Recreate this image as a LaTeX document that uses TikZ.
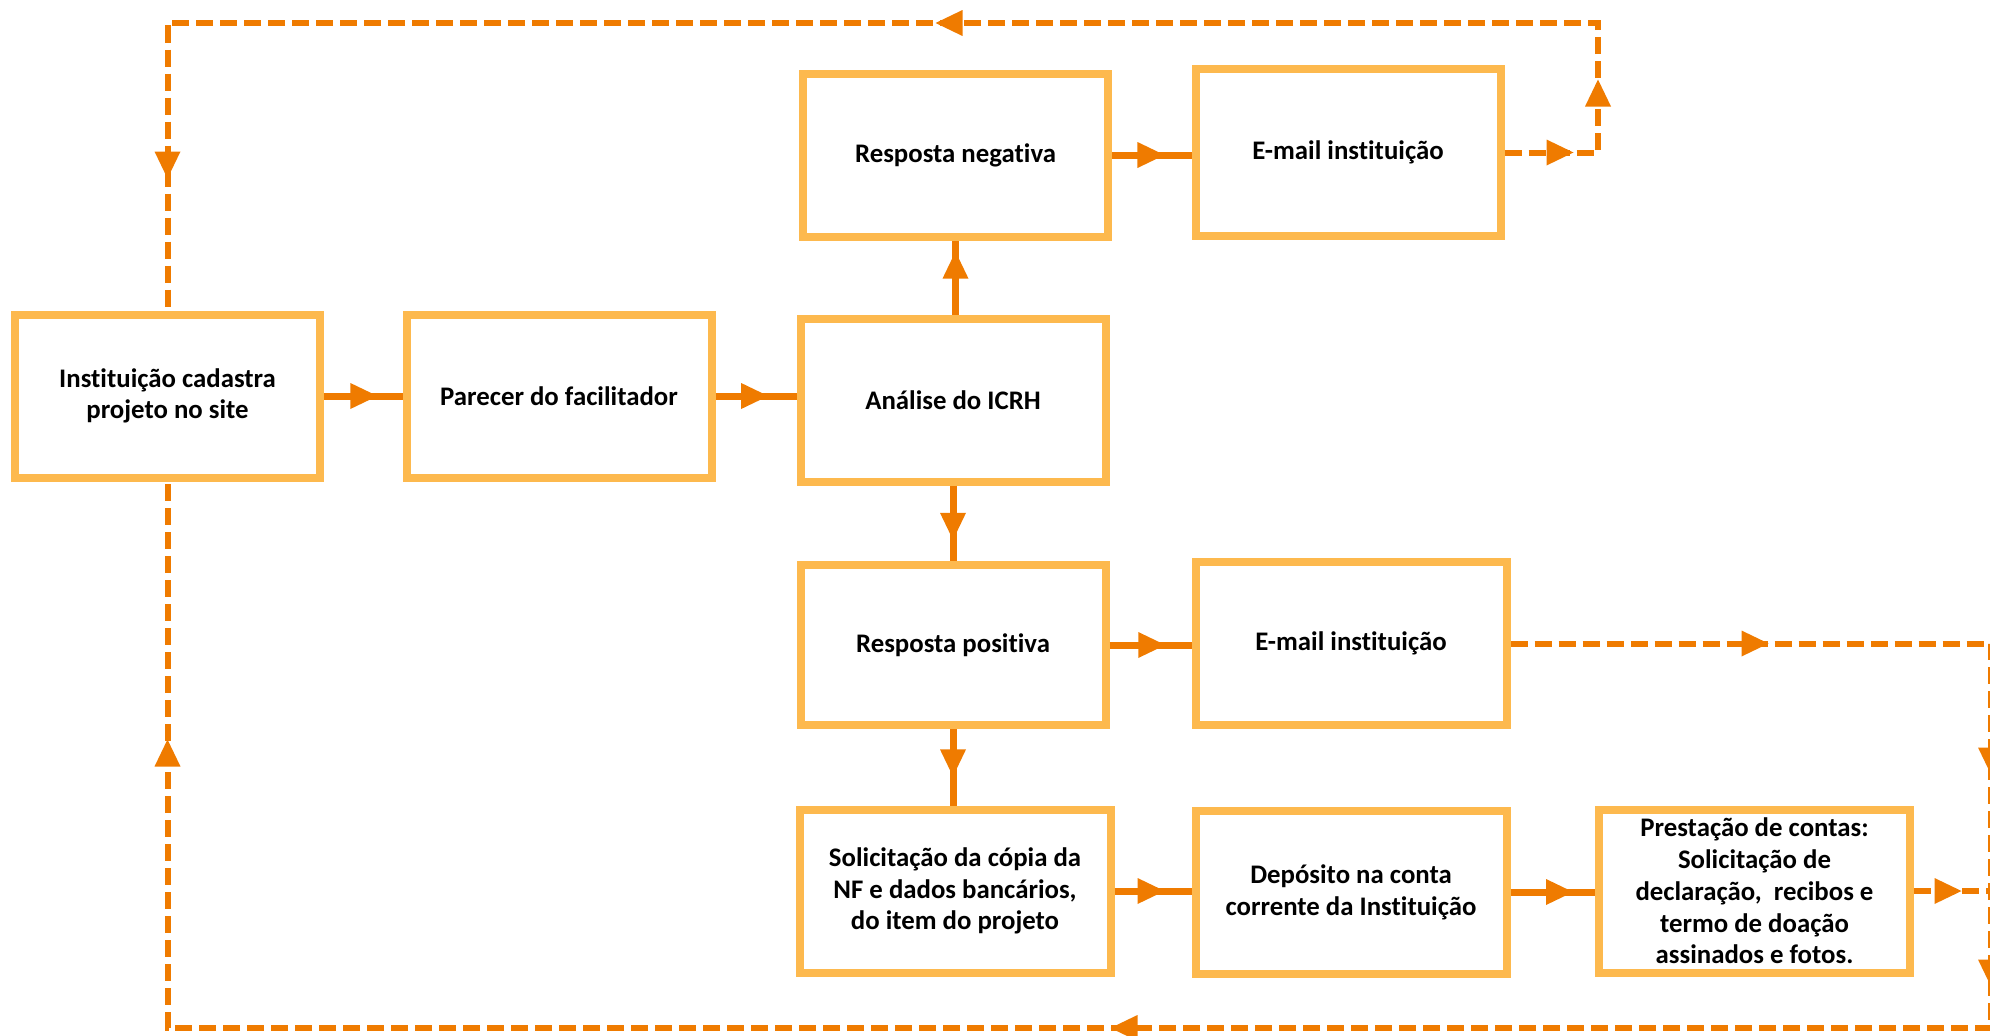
\documentclass[tikz,border=0pt]{standalone}
\usepackage{fontspec}
\setmainfont{Carlito}[Ligatures=NoCommon]
\usetikzlibrary{decorations.markings}
\definecolor{boxc}{RGB}{253,185,78}
\definecolor{arrc}{RGB}{239,123,0}
\newcommand\arrtip{\fill[arrc] (0,0) -- (-27,13) -- (-27,-13) -- cycle;}
\tikzset{
  boxn/.style={draw=boxc, line width=8pt, rectangle, inner sep=0pt, align=center,
    font=\fontsize{26.8}{31.7}\selectfont\bfseries, text=black},
  conn/.style={draw=arrc, line width=7pt,
    postaction={decorate, decoration={markings, mark=at position #1 with {\arrtip}}}},
  dashc/.style={draw=arrc, line width=6pt, dash pattern=on 17pt off 7pt, line join=miter}
}
\begin{document}
\begin{tikzpicture}[x=1pt,y=-1pt]
\useasboundingbox (0,0) rectangle (1990,1036);
\clip (0,0) rectangle (1990,1036);
\node[boxn, minimum width=305pt, minimum height=163pt] (inst) at (167.5,396) {Instituição cadastra\\projeto no site};
\node[boxn, minimum width=305pt, minimum height=163pt] (par) at (559,396) {Parecer do facilitador};
\node[boxn, minimum width=305pt, minimum height=163pt] (ana) at (953,400) {Análise do ICRH};
\node[boxn, minimum width=305pt, minimum height=163pt] (rneg) at (955.5,155) {Resposta negativa};
\node[boxn, minimum width=305pt, minimum height=167pt] (em1) at (1348,152.5) {E-mail instituição};
\node[boxn, minimum width=305pt, minimum height=160pt] (rpos) at (953,645) {Resposta positiva};
\node[boxn, minimum width=311pt, minimum height=163pt] (em2) at (1351,643.5) {E-mail instituição};
\node[boxn, minimum width=311pt, minimum height=163pt] (sol) at (955,891) {Solicitação da cópia da\\NF e dados bancários,\\do item do projeto};
\node[boxn, minimum width=311pt, minimum height=163pt] (dep) at (1351,892) {Depósito na conta\\corrente da Instituição};
\node[boxn, minimum width=311pt, minimum height=163pt] (pc) at (1754.5,891) {Prestação de contas:\\Solicitação de\\declaração,~ recibos e\\termo de doação\\assinados e fotos.};
% solid connectors
\draw[conn=0.68] (inst.east) -- (par.west);
\draw[conn=0.65] (par.east) -- (ana.west |- par.east);
\draw[conn=0.85] (rneg.south |- ana.north) -- (rneg.south);
\draw[conn=0.66] (rneg.east) -- (em1.west |- rneg.east);
\draw[conn=0.72] (ana.south) -- (rpos.north);
\draw[conn=0.68] (rpos.east) -- (em2.west |- rpos.east);
\draw[conn=0.62] (rpos.south) -- (sol.north -| rpos.south);
\draw[conn=0.65] (sol.east) -- (dep.west |- sol.east);
\draw[conn=0.74] (dep.east) -- (pc.west |- dep.east);
% dashed loops
\coordinate (tr) at (1598,23);
\coordinate (br) at (1991,1028);
\draw[dashc, postaction={decorate, decoration={markings,
    mark=at position 69pt with {\arrtip},
    mark=at position 166.5pt with {\arrtip},
    mark=at position 885.5pt with {\arrtip},
    mark=at position 1809pt with {\arrtip}}}]
  (em1.east) -- (em1.east -| tr) -- (tr) -- (tr -| inst.north) -- (inst.north);
\draw[dashc, postaction={decorate, decoration={markings,
    mark=at position 258pt with {\arrtip},
    mark=at position 611.5pt with {\arrtip},
    mark=at position 823.5pt with {\arrtip},
    mark=at position 1745.5pt with {\arrtip},
    mark=at position 2977pt with {\arrtip}}}]
  (em2.east) -- (em2.east -| br) -- (br) -- (br -| inst.south) -- (inst.south);
\draw[dashc, postaction={decorate, decoration={markings,
    mark=at position 47.5pt with {\arrtip}}}]
  (pc.east) -- (pc.east -| br);
\end{tikzpicture}
\end{document}
